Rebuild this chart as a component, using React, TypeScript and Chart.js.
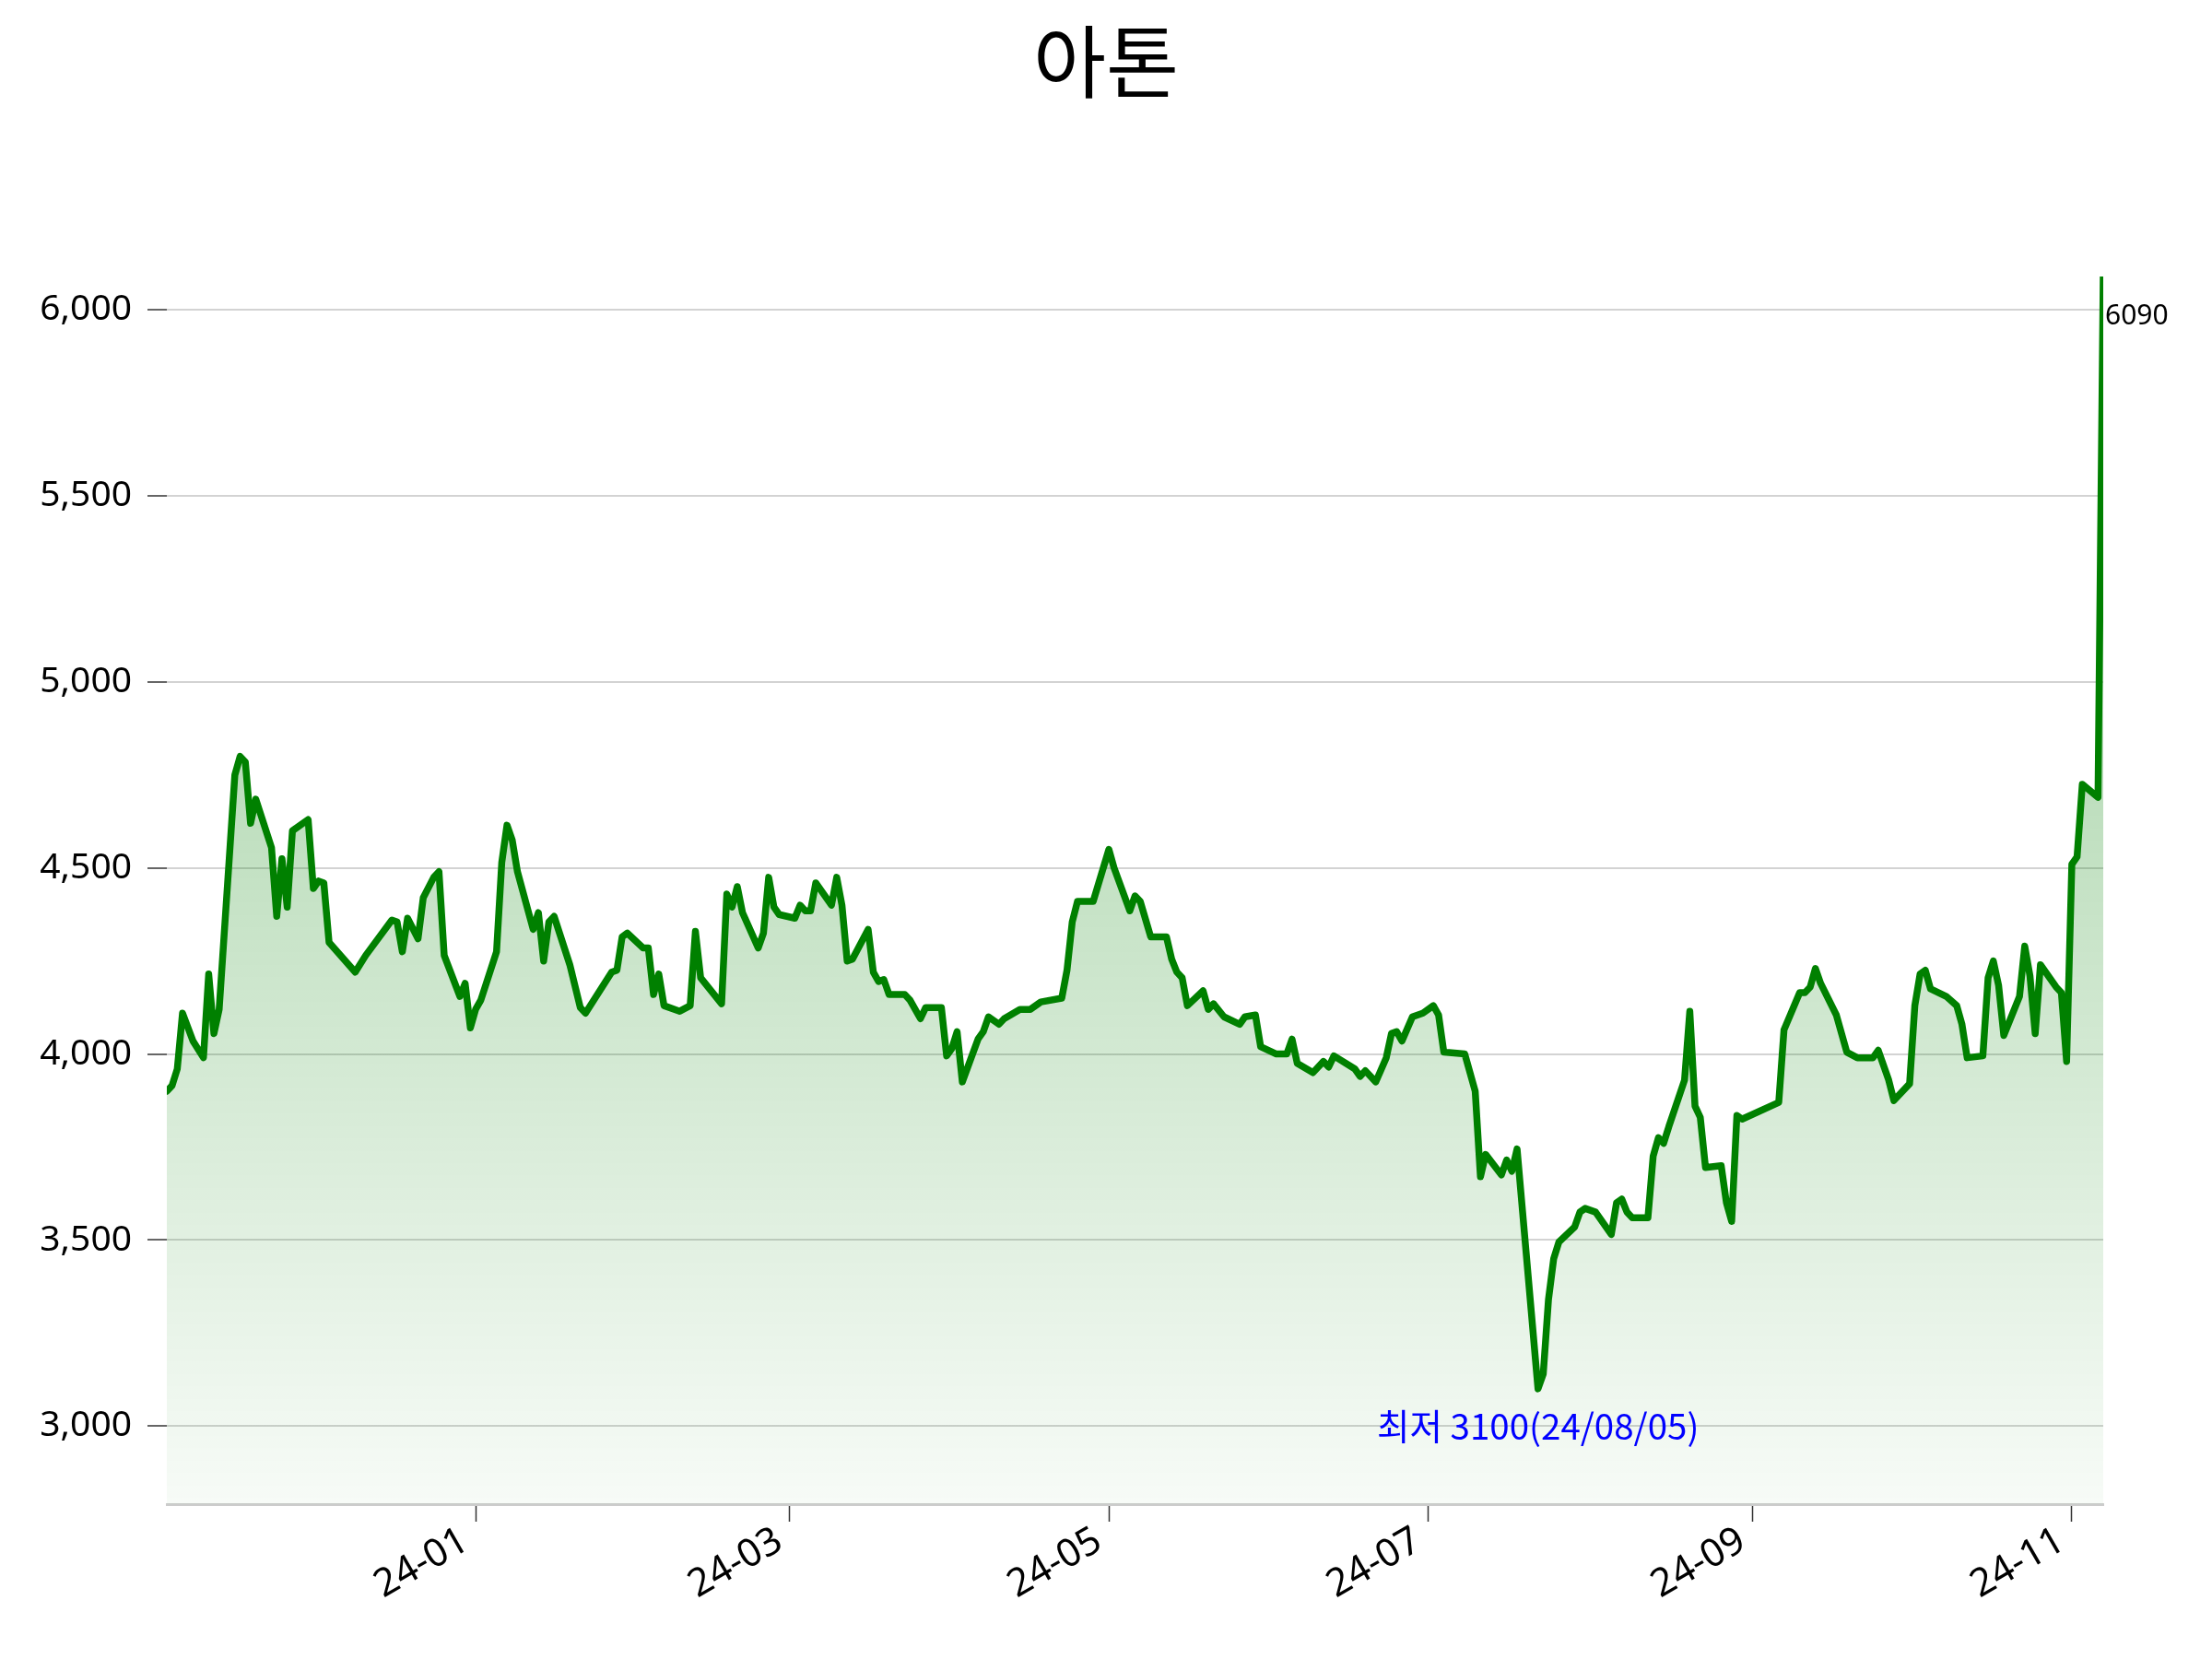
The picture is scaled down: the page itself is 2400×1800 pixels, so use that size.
import { useEffect, useRef } from "react"
import { Chart, registerables } from "chart.js"

Chart.register(...registerables)

const TITLE = "아톤"
const LOW_LABEL = "최저 3100(24/08/05)"

const dates = [
  "2023-11-03", "2023-11-04", "2023-11-05", "2023-11-06", "2023-11-08", "2023-11-10", "2023-11-11", "2023-11-12",
  "2023-11-13", "2023-11-16", "2023-11-17", "2023-11-18", "2023-11-19", "2023-11-20", "2023-11-23", "2023-11-24",
  "2023-11-25", "2023-11-26", "2023-11-27", "2023-11-30", "2023-12-01", "2023-12-02", "2023-12-03", "2023-12-04",
  "2023-12-09", "2023-12-11", "2023-12-16", "2023-12-17", "2023-12-18", "2023-12-19", "2023-12-21", "2023-12-22",
  "2023-12-24", "2023-12-25", "2023-12-26", "2023-12-29", "2023-12-30", "2023-12-31", "2024-01-01", "2024-01-02",
  "2024-01-05", "2024-01-06", "2024-01-07", "2024-01-08", "2024-01-09", "2024-01-12", "2024-01-13", "2024-01-14",
  "2024-01-15", "2024-01-16", "2024-01-19", "2024-01-21", "2024-01-22", "2024-01-27", "2024-01-28", "2024-01-29",
  "2024-01-30", "2024-02-02", "2024-02-03", "2024-02-04", "2024-02-05", "2024-02-06", "2024-02-09", "2024-02-11",
  "2024-02-12", "2024-02-13", "2024-02-17", "2024-02-18", "2024-02-19", "2024-02-20", "2024-02-21", "2024-02-24",
  "2024-02-25", "2024-02-26", "2024-02-27", "2024-02-28", "2024-03-02", "2024-03-03", "2024-03-04", "2024-03-05",
  "2024-03-06", "2024-03-09", "2024-03-10", "2024-03-11", "2024-03-12", "2024-03-13", "2024-03-16", "2024-03-17",
  "2024-03-18", "2024-03-19", "2024-03-20", "2024-03-23", "2024-03-24", "2024-03-26", "2024-03-27", "2024-03-30",
  "2024-03-31", "2024-04-01", "2024-04-02", "2024-04-03", "2024-04-06", "2024-04-07", "2024-04-08", "2024-04-10",
  "2024-04-11", "2024-04-14", "2024-04-16", "2024-04-18", "2024-04-22", "2024-04-23", "2024-04-24", "2024-04-25",
  "2024-04-28", "2024-05-01", "2024-05-02", "2024-05-05", "2024-05-06", "2024-05-07", "2024-05-09", "2024-05-12",
  "2024-05-13", "2024-05-14", "2024-05-15", "2024-05-16", "2024-05-19", "2024-05-20", "2024-05-21", "2024-05-23",
  "2024-05-26", "2024-05-27", "2024-05-29", "2024-05-30", "2024-06-02", "2024-06-04", "2024-06-05", "2024-06-06",
  "2024-06-09", "2024-06-11", "2024-06-12", "2024-06-13", "2024-06-17", "2024-06-18", "2024-06-19", "2024-06-21",
  "2024-06-23", "2024-06-24", "2024-06-25", "2024-06-26", "2024-06-28", "2024-06-30", "2024-07-02", "2024-07-03",
  "2024-07-04", "2024-07-08", "2024-07-10", "2024-07-11", "2024-07-12", "2024-07-15", "2024-07-16", "2024-07-17",
  "2024-07-18", "2024-07-22", "2024-07-23", "2024-07-24", "2024-07-25", "2024-07-26", "2024-07-29", "2024-07-30",
  "2024-07-31", "2024-08-02", "2024-08-05", "2024-08-06", "2024-08-07", "2024-08-08", "2024-08-09", "2024-08-12",
  "2024-08-13", "2024-08-14", "2024-08-15", "2024-08-16", "2024-08-19", "2024-08-20", "2024-08-21", "2024-08-22",
  "2024-08-23", "2024-08-26", "2024-08-27", "2024-08-28", "2024-08-29", "2024-08-30", "2024-09-06", "2024-09-07",
  "2024-09-10", "2024-09-11", "2024-09-12", "2024-09-13", "2024-09-14", "2024-09-17", "2024-09-19", "2024-09-21",
  "2024-09-24", "2024-09-25", "2024-09-27", "2024-09-28", "2024-10-01", "2024-10-02", "2024-10-03", "2024-10-04",
  "2024-10-05", "2024-10-08", "2024-10-10", "2024-10-11", "2024-10-12", "2024-10-15", "2024-10-16", "2024-10-17",
  "2024-10-18", "2024-10-19", "2024-10-22", "2024-10-23", "2024-10-24", "2024-10-25", "2024-10-26", "2024-10-29",
  "2024-10-30", "2024-10-31", "2024-11-01", "2024-11-02", "2024-11-03", "2024-11-06", "2024-11-07",
]

const prices = [
  3900, 3915, 3960, 4110, 4035, 3990, 4215, 4055,
  4120, 4750, 4800, 4785, 4620, 4685, 4555, 4370,
  4525, 4395, 4600, 4630, 4445, 4465, 4460, 4300,
  4220, 4265, 4360, 4355, 4275, 4365, 4310, 4420,
  4475, 4490, 4265, 4155, 4190, 4070, 4120, 4145,
  4275, 4515, 4615, 4575, 4490, 4335, 4380, 4250,
  4355, 4370, 4240, 4125, 4110, 4220, 4225, 4315,
  4325, 4285, 4285, 4160, 4215, 4130, 4115, 4130,
  4330, 4205, 4135, 4430, 4395, 4450, 4380, 4285,
  4325, 4475, 4395, 4375, 4365, 4400, 4385, 4385,
  4460, 4400, 4475, 4400, 4250, 4255, 4335, 4220,
  4195, 4200, 4160, 4160, 4145, 4095, 4125, 4125,
  3995, 4015, 4060, 3925, 4040, 4060, 4100, 4080,
  4095, 4120, 4120, 4140, 4150, 4225, 4355, 4410,
  4410, 4550, 4500, 4385, 4425, 4410, 4315, 4315,
  4255, 4220, 4205, 4130, 4170, 4120, 4135, 4100,
  4080, 4100, 4105, 4020, 4000, 4000, 4040, 3975,
  3950, 3980, 3965, 3995, 3960, 3940, 3955, 3925,
  3990, 4055, 4060, 4035, 4100, 4110, 4130, 4105,
  4005, 4000, 3900, 3670, 3730, 3675, 3715, 3685,
  3745, 3100, 3140, 3340, 3450, 3495, 3535, 3575,
  3585, 3575, 3515, 3600, 3610, 3575, 3560, 3560,
  3725, 3775, 3760, 3805, 3930, 4115, 3860, 3830,
  3695, 3700, 3600, 3550, 3835, 3825, 3870, 4065,
  4165, 4165, 4180, 4230, 4190, 4105, 4005, 3990,
  3990, 4010, 3930, 3875, 3920, 4130, 4215, 4225,
  4175, 4155, 4130, 4080, 3990, 3995, 4205, 4250,
  4185, 4050, 4155, 4290, 4210, 4055, 4240, 4180,
  4165, 3980, 4510, 4530, 4725, 4690, 6090,
]

const tickDates = ["2024-01-01", "2024-03-01", "2024-05-01", "2024-07-01", "2024-09-01", "2024-11-01"]
const tickLabels = ["24-01", "24-03", "24-05", "24-07", "24-09", "24-11"]
const yTicks = [3000, 3500, 4000, 4500, 5000, 5500, 6000]
const Y_MIN = 2790
const Y_MAX = 6090

const FONT = "'Noto Sans', 'Noto Sans CJK KR', sans-serif"
const KR_FONT = "'Noto Sans CJK KR', 'Noto Sans', sans-serif"

const times = dates.map(d => Date.parse(d))
const tickTimes = tickDates.map(d => Date.parse(d))

const annotations = {
  id: "annotations",
  afterDatasetsDraw(chart: Chart) {
    const { ctx } = chart
    const x = chart.scales.x
    const y = chart.scales.y
    const lo = prices.indexOf(Math.min(...prices))
    const last = prices.length - 1
    ctx.save()
    // lowest close, written just under the trough
    ctx.fillStyle = "#0000ff"
    ctx.font = `38.5px ${KR_FONT}`
    ctx.textAlign = "center"
    ctx.textBaseline = "middle"
    ctx.fillText(LOW_LABEL, x.getPixelForValue(times[lo]), y.getPixelForValue(prices[lo] - 100))

    // last close next to the final point
    ctx.fillStyle = "#000"
    ctx.font = `30px ${FONT}`
    ctx.textAlign = "left"
    ctx.textBaseline = "top"
    ctx.fillText(String(prices[last]), x.getPixelForValue(times[last]) + 2, y.getPixelForValue(prices[last]) + 28)
    ctx.restore()
  },
  afterDraw(chart: Chart) {
    const { ctx } = chart
    ctx.save()
    ctx.fillStyle = "#000"
    ctx.font = `86px ${KR_FONT}`
    ctx.textAlign = "center"
    ctx.textBaseline = "middle"
    ctx.fillText(TITLE, chart.width / 2, 67)
    ctx.restore()
  },
}

export default function App() {
  const canvasRef = useRef<HTMLCanvasElement>(null)
  const chartRef = useRef<Chart | null>(null)

  useEffect(() => {
    document.body.style.margin = "0"
    if (!canvasRef.current) return
    const ctx = canvasRef.current.getContext("2d")
    if (!ctx) return
    chartRef.current?.destroy()

    chartRef.current = new Chart(ctx, {
      type: "line",
      data: {
        datasets: [
          {
            label: TITLE,
            data: times.map((t, i) => ({ x: t, y: prices[i] })),
            borderColor: "#008000",
            borderWidth: 7.5,
            borderJoinStyle: "round",
            borderCapStyle: "round",
            tension: 0,
            pointRadius: 0,
            fill: "start",
            backgroundColor: (c: any) => {
              const area = c.chart.chartArea
              if (!area) return "rgba(0,128,0,0.2)"
              const g = c.chart.ctx.createLinearGradient(0, area.top, 0, area.bottom)
              g.addColorStop(0, "rgba(0,128,0,0.42)")
              g.addColorStop(1, "rgba(0,128,0,0.03)")
              return g
            },
          },
        ],
      },
      options: {
        animation: false,
        responsive: true,
        maintainAspectRatio: false,
        layout: { padding: { top: 300, right: 118, left: 0, bottom: 0 } },
        plugins: {
          legend: { display: false },
          tooltip: { enabled: false },
          title: { display: false },
        },
        scales: {
          x: {
            type: "linear",
            min: times[0],
            max: times[times.length - 1],
            afterBuildTicks: (axis: any) => { axis.ticks = tickTimes.map(v => ({ value: v })) },
            afterFit: (axis: any) => { axis.height = 168 },
            grid: { drawOnChartArea: false, drawTicks: true, tickLength: 19, tickColor: "#333", tickWidth: 1.5 },
            border: { display: true, color: "#cccccc", width: 3 },
            ticks: {
              autoSkip: false,
              minRotation: 30,
              maxRotation: 30,
              padding: -4,
              labelOffset: -11,
              color: "#000",
              font: { size: 42, family: FONT },
              callback: (v: any) => tickLabels[tickTimes.indexOf(Number(v))] ?? "",
            },
          },
          y: {
            min: Y_MIN,
            max: Y_MAX,
            afterBuildTicks: (axis: any) => { axis.ticks = yTicks.map(v => ({ value: v })) },
            afterFit: (axis: any) => { axis.width = 181 },
            grid: { color: "#d3d3d3", lineWidth: 2, drawTicks: true, tickLength: 21, tickColor: "#333", tickWidth: 1.5 },
            border: { display: false },
            ticks: {
              padding: 17,
              color: "#000",
              font: { size: 39, family: FONT },
              callback: (v: any) => Number(v).toLocaleString("en-US"),
            },
          },
        },
      },
      plugins: [annotations],
    })

    return () => { chartRef.current?.destroy() }
  }, [])

  return (
    <div style={{ position: "relative", width: 2400, height: 1800 }}>
      <canvas ref={canvasRef} aria-label="아톤 주가 차트" role="img" />
    </div>
  )
}
